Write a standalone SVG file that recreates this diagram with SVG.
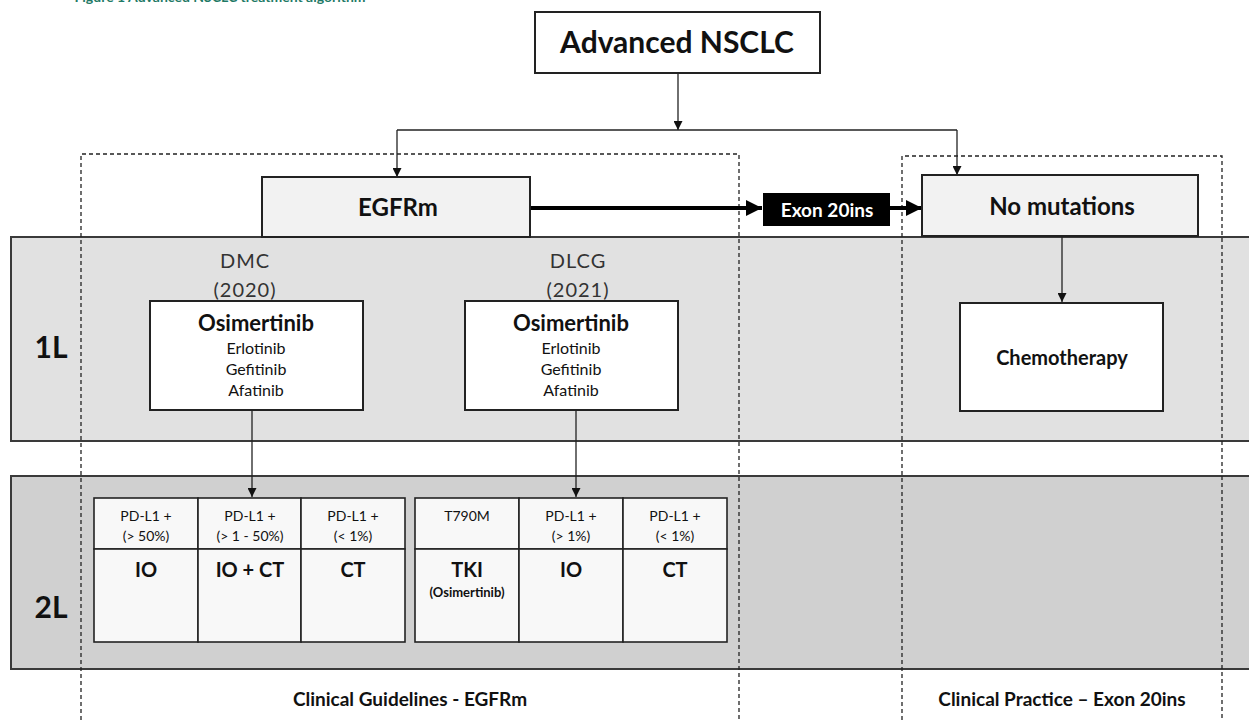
<svg xmlns="http://www.w3.org/2000/svg" width="1249" height="720" viewBox="0 0 1249 720">
<style>
text{font-family:Lato,"Open Sans","Liberation Sans",sans-serif;fill:#111;text-anchor:middle}
.b{font-weight:bold}
.node{fill:#fff;stroke:#222;stroke-width:2}
.gnode{fill:#f2f2f2;stroke:#222;stroke-width:2}
.cell{fill:#f8f8f8;stroke:#222;stroke-width:1.6}
.band1{fill:#e1e1e1;stroke:#3a3a3a;stroke-width:2}
.band2{fill:#d0d0d0;stroke:#3a3a3a;stroke-width:2}
.dash{fill:none;stroke:#222;stroke-width:1.3;stroke-dasharray:4,3}
.conn{fill:none;stroke:#222;stroke-width:1.3}
.thick{fill:none;stroke:#000;stroke-width:4}
.hdr{font-size:14px}
.big{font-size:20px;font-weight:bold}
.sm{font-size:16px}
.drug{font-size:22px;font-weight:bold}
.yr{font-size:20px;fill:#333;letter-spacing:1px}
.lane{font-size:30px;font-weight:bold}
.foot{font-size:19px;font-weight:bold}
</style>
<defs>
<marker id="ah" viewBox="0 0 10 10" refX="10" refY="5" markerWidth="9" markerHeight="9" markerUnits="userSpaceOnUse" orient="auto"><path d="M0,0L10,5L0,10z" fill="#111"/></marker>
<marker id="ahb" viewBox="0 0 10 10" refX="10" refY="5" markerWidth="16" markerHeight="16" markerUnits="userSpaceOnUse" orient="auto"><path d="M0,0L10,5L0,10z" fill="#000"/></marker>
</defs>
<text x="220" y="2" style="font-size:14px;font-weight:bold;fill:#1f7a66">Figure 1 Advanced NSCLC treatment algorithm</text>
<g id="bands">
<rect class="band1" x="11" y="237" width="1250" height="204"/>
<rect class="band2" x="11" y="476" width="1250" height="193"/>
<text class="lane" x="51" y="358">1L</text>
<text class="lane" x="51" y="618">2L</text>
</g>
<g id="regions">
<path class="dash" d="M81,720V154H739V720"/>
<path class="dash" d="M902,720V156H1222V720"/>
<text class="foot" x="410" y="706">Clinical Guidelines - EGFRm</text>
<text class="foot" x="1062" y="706">Clinical Practice – Exon 20ins</text>
</g>
<g id="connectors">
<path class="conn" d="M678,73V130" marker-end="url(#ah)"/>
<path class="conn" d="M397,130H957"/>
<path class="conn" d="M397,130V177" marker-end="url(#ah)"/>
<path class="conn" d="M957,130V175" marker-end="url(#ah)"/>
<path class="thick" d="M531,208H762" marker-end="url(#ahb)"/>
<path class="thick" d="M890,208H922" marker-end="url(#ahb)"/>
<path class="conn" d="M1062,236V302" marker-end="url(#ah)"/>
<path class="conn" d="M252,410V497" marker-end="url(#ah)"/>
<path class="conn" d="M576,410V497" marker-end="url(#ah)"/>
</g>
<g id="advanced-nsclc">
<rect class="node" x="535" y="12" width="285" height="61"/>
<text class="b" x="677" y="53" style="font-size:30px">Advanced NSCLC</text>
</g>
<g id="egfrm">
<rect class="gnode" x="262" y="177" width="268" height="60"/>
<text class="b" x="398" y="216" style="font-size:24px">EGFRm</text>
</g>
<g id="exon20ins">
<rect x="763" y="193" width="127" height="33" fill="#000"/>
<text class="b" x="827" y="217" style="font-size:19px;fill:#fff">Exon 20ins</text>
</g>
<g id="no-mutations">
<rect class="gnode" x="922" y="175" width="276" height="61"/>
<text class="b" x="1062" y="215" style="font-size:24px">No mutations</text>
</g>
<g id="dmc">
<text class="yr" x="245" y="268">DMC</text>
<text class="yr" x="245" y="297">(2020)</text>
<rect class="node" x="150" y="301" width="213" height="109"/>
<text class="drug" x="256" y="331">Osimertinib</text>
<text class="sm" x="256" y="354">Erlotinib</text>
<text class="sm" x="256" y="375">Gefitinib</text>
<text class="sm" x="256" y="396">Afatinib</text>
</g>
<g id="dlcg">
<text class="yr" x="578" y="268">DLCG</text>
<text class="yr" x="578" y="297">(2021)</text>
<rect class="node" x="465" y="301" width="213" height="109"/>
<text class="drug" x="571" y="331">Osimertinib</text>
<text class="sm" x="571" y="354">Erlotinib</text>
<text class="sm" x="571" y="375">Gefitinib</text>
<text class="sm" x="571" y="396">Afatinib</text>
</g>
<g id="chemotherapy">
<rect class="node" x="960" y="303" width="203" height="108"/>
<text class="b" x="1062" y="365" style="font-size:20px">Chemotherapy</text>
</g>
<g id="dmc-2l">
<rect class="cell" x="94" y="498" width="104" height="51"/>
<rect class="cell" x="198" y="498" width="103" height="51"/>
<rect class="cell" x="301" y="498" width="104" height="51"/>
<rect class="cell" x="94" y="549" width="104" height="93"/>
<rect class="cell" x="198" y="549" width="103" height="93"/>
<rect class="cell" x="301" y="549" width="104" height="93"/>
<text class="hdr" x="146" y="521">PD-L1 +</text><text class="hdr" x="146" y="541">(&gt; 50%)</text>
<text class="hdr" x="250" y="521">PD-L1 +</text><text class="hdr" x="250" y="541">(&gt; 1 - 50%)</text>
<text class="hdr" x="353" y="521">PD-L1 +</text><text class="hdr" x="353" y="541">(&lt; 1%)</text>
<text class="big" x="146" y="577">IO</text>
<text class="big" x="250" y="577">IO + CT</text>
<text class="big" x="353" y="577">CT</text>
</g>
<g id="dlcg-2l">
<rect class="cell" x="415" y="498" width="104" height="51"/>
<rect class="cell" x="519" y="498" width="104" height="51"/>
<rect class="cell" x="623" y="498" width="104" height="51"/>
<rect class="cell" x="415" y="549" width="104" height="93"/>
<rect class="cell" x="519" y="549" width="104" height="93"/>
<rect class="cell" x="623" y="549" width="104" height="93"/>
<text class="hdr" x="467" y="521">T790M</text>
<text class="hdr" x="571" y="521">PD-L1 +</text><text class="hdr" x="571" y="541">(&gt; 1%)</text>
<text class="hdr" x="675" y="521">PD-L1 +</text><text class="hdr" x="675" y="541">(&lt; 1%)</text>
<text class="big" x="467" y="577">TKI</text>
<text x="467" y="597" style="font-size:13px;font-weight:bold">(Osimertinib)</text>
<text class="big" x="571" y="577">IO</text>
<text class="big" x="675" y="577">CT</text>
</g>
</svg>
